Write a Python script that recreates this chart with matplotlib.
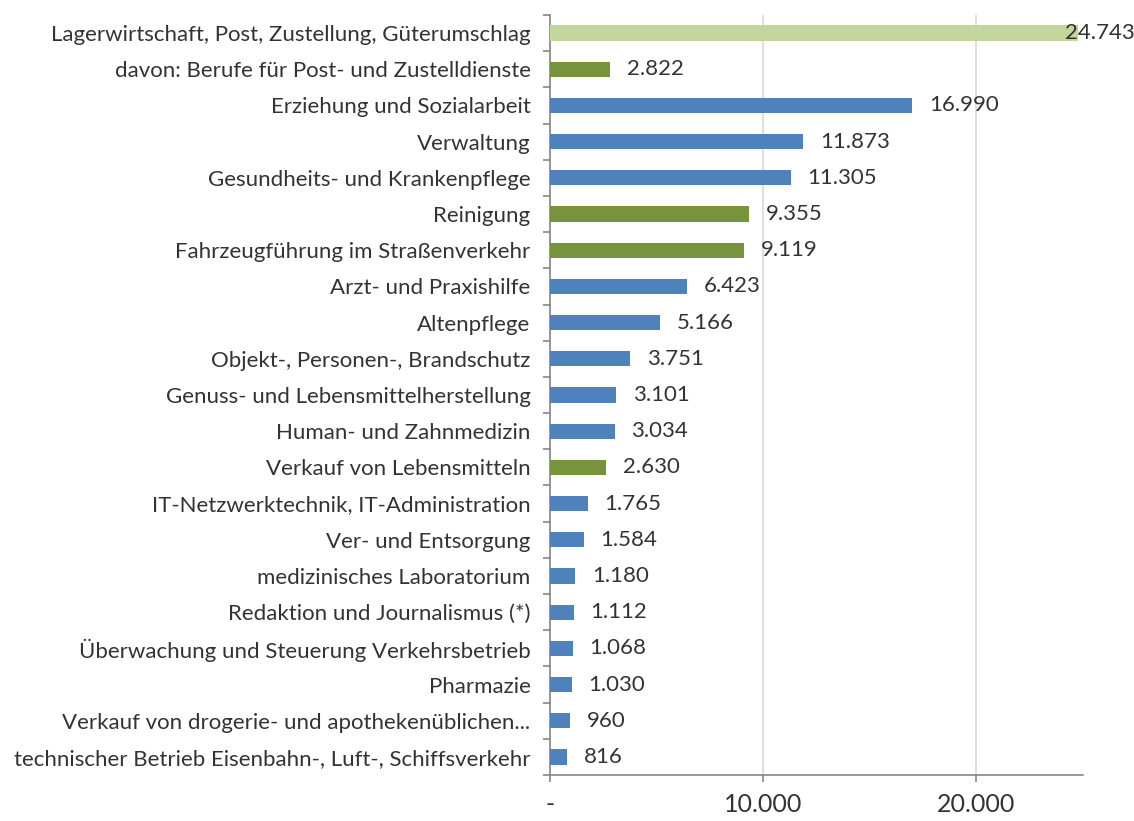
import matplotlib.pyplot as plt
from matplotlib.ticker import FixedLocator

categories = [
    "Lagerwirtschaft, Post, Zustellung, Güterumschlag",
    "davon: Berufe für Post- und Zustelldienste",
    "Erziehung und Sozialarbeit",
    "Verwaltung",
    "Gesundheits- und Krankenpflege",
    "Reinigung",
    "Fahrzeugführung im Straßenverkehr",
    "Arzt- und Praxishilfe",
    "Altenpflege",
    "Objekt-, Personen-, Brandschutz",
    "Genuss- und Lebensmittelherstellung",
    "Human- und Zahnmedizin",
    "Verkauf von Lebensmitteln",
    "IT-Netzwerktechnik, IT-Administration",
    "Ver- und Entsorgung",
    "medizinisches Laboratorium",
    "Redaktion und Journalismus (*)",
    "Überwachung und Steuerung Verkehrsbetrieb",
    "Pharmazie",
    "Verkauf von drogerie- und apothekenüblichen...",
    "technischer Betrieb Eisenbahn-, Luft-, Schiffsverkehr",
]
values = [24743, 2822, 16990, 11873, 11305, 9355, 9119, 6423, 5166, 3751,
          3101, 3034, 2630, 1765, 1584, 1180, 1112, 1068, 1030, 960, 816]
# group: 0 = highlight, 1 = green, 2 = blue
groups = [0, 1, 2, 2, 2, 1, 1, 2, 2, 2, 2, 2, 1, 2, 2, 2, 2, 2, 2, 2, 2]
xticks = [0, 10000, 20000]
xtick_labels = ["-", "10.000", "20.000"]

palette = {0: "#c3d69b", 1: "#77933c", 2: "#4f81bd"}
text_col = "#333333"
axis_col = "#868686"

plt.rcParams['font.family'] = ['Lato', 'DejaVu Sans']

fig = plt.figure(figsize=(11.34, 8.21), dpi=100)
ax = fig.add_axes([550 / 1134, 1 - 775 / 821, 533 / 1134, 760 / 821])

n = len(categories)
ypos = list(range(n))
colors = [palette[g] for g in groups]
ax.barh(ypos, values, height=0.42, color=colors, zorder=3)

ax.set_xlim(0, 25000)
ax.set_ylim(n - 0.5, -0.5)

ax.set_yticks(ypos)
ax.set_yticklabels(categories, fontsize=16, color=text_col)
ax.yaxis.set_minor_locator(FixedLocator([i - 0.5 for i in range(n + 1)]))
ax.tick_params(axis='y', which='major', length=0, pad=14)
ax.tick_params(axis='y', which='minor', length=5, width=1.2, color=axis_col, direction='out')

ax.set_xticks(xticks)
ax.set_xticklabels(xtick_labels, fontsize=18, color=text_col)
ax.tick_params(axis='x', length=5, width=1.2, color=axis_col, direction='out', pad=8)

ax.grid(axis='x', color="#d9d9d9", linewidth=1.2, zorder=0)
for s in ['top', 'right']:
    ax.spines[s].set_visible(False)
for s in ['left', 'bottom']:
    ax.spines[s].set_color(axis_col)
    ax.spines[s].set_linewidth(1.2)

for y, v in zip(ypos, values):
    lab = f"{v:,}".replace(",", ".")
    if v > 23000:
        ax.annotate(lab, (v, y), xytext=(-9, 0), textcoords='offset points',
                    va='center', ha='left', fontsize=16, color=text_col, zorder=4)
    else:
        ax.annotate(lab, (v, y), xytext=(12, 0), textcoords='offset points',
                    va='center', ha='left', fontsize=16, color=text_col, zorder=4)

fig.savefig("out.png", dpi=100)
